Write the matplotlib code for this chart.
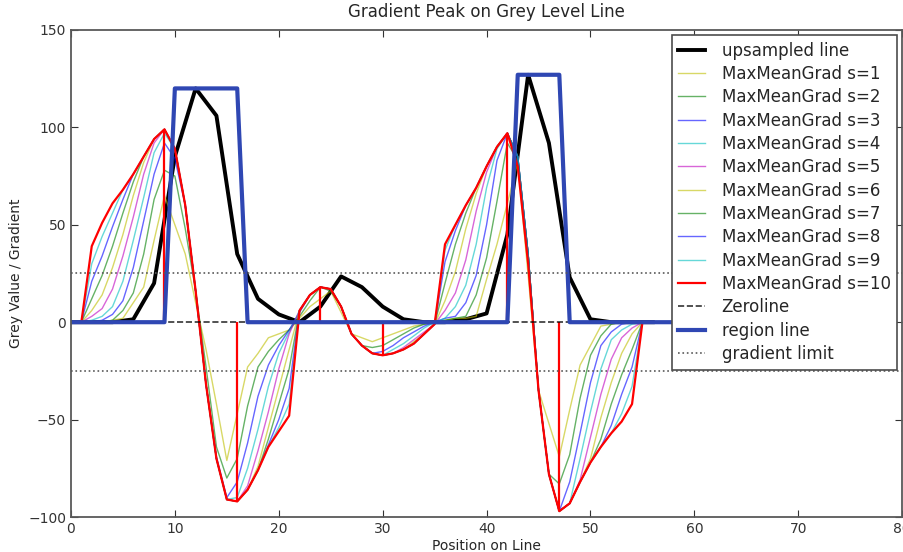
import matplotlib
matplotlib.use("Agg")
import matplotlib.pyplot as plt

# upsampled grey level line (every 2nd position)
line_x = [0, 2, 4, 6, 8, 10, 12, 14, 16, 18, 20, 22, 24, 26, 28, 30, 32, 34, 36, 38,
          40, 42, 44, 46, 48, 50, 52, 54, 56]
line_y = [0, 0, 0, 1.5, 20, 85, 120, 106, 35, 12, 4, 0, 8, 23.5, 18, 8, 1.5, 0, 0, 1.5,
          4.5, 45, 127, 92, 23, 1.5, 0, 0, 0]

# MaxMeanGrad for window sizes s=1..10, positions 1..55
grad_x = list(range(1, 56))
grad_s1 = [0, 0, 0, 1, 2, 10, 18, 42, 65, 50, 35, 10, -14, -42, -71, -47, -23, -16, -8, -6, -4, 2, 8, 12, 16, 5, -6, -8,
           -10, -8, -6, -4, -2, -1, 0, 1, 2, 2, 3, 22, 40, 61, 82, 24, -35, -52, -69, -45, -22, -12, -2, -1, 0, 0, 0]
grad_s2 = [0, 0, 0, 1, 6, 15, 35, 63, 78, 75, 48, 16, -23, -64, -80, -70, -43, -23, -15, -9, -4, 3, 11, 18, 16, 8, -6, -12,
           -13, -12, -9, -6, -3, -1, 0, 1, 2, 3, 14, 33, 62, 92, 83, 35, -35, -78, -83, -68, -39, -17, -7, -1, 0, 0, 0]
grad_s3 = [0, 0, 1, 4, 11, 28, 52, 76, 92, 84, 60, 16, -32, -69, -90, -82, -62, -38, -22, -12, -4, 5, 14, 18, 17, 8, -6, -12,
           -16, -15, -12, -8, -5, -2, 0, 2, 3, 10, 24, 50, 83, 97, 85, 35, -35, -78, -97, -82, -57, -31, -12, -5, -1, 0, 0]
grad_s4 = [0, 1, 3, 8, 21, 42, 64, 87, 97, 89, 60, 16, -32, -70, -91, -90, -75, -55, -33, -16, -5, 6, 14, 18, 17, 8, -6, -12,
           -16, -17, -14, -11, -7, -3, 0, 2, 8, 19, 40, 69, 89, 97, 85, 35, -35, -78, -97, -93, -70, -46, -24, -9, -4, -1, 0]
grad_s5 = [0, 3, 7, 17, 34, 54, 76, 92, 99, 89, 60, 16, -32, -70, -91, -92, -84, -66, -46, -24, -6, 6, 14, 18, 17, 8, -6, -12,
           -16, -17, -16, -13, -9, -5, -1, 6, 15, 32, 57, 77, 90, 97, 85, 35, -35, -78, -97, -93, -81, -59, -37, -19, -8, -3, 0]
grad_s6 = [0, 6, 14, 28, 45, 65, 82, 94, 99, 89, 60, 16, -32, -70, -91, -92, -86, -74, -54, -34, -14, 6, 14, 18, 17, 8, -6, -12,
           -16, -17, -16, -14, -10, -6, -1, 11, 26, 48, 66, 80, 90, 97, 85, 35, -35, -78, -97, -93, -82, -70, -49, -31, -16, -6, 0]
grad_s7 = [0, 12, 24, 39, 56, 72, 85, 94, 99, 89, 60, 16, -32, -70, -91, -92, -86, -76, -60, -42, -24, 6, 14, 18, 17, 8, -6, -12,
           -16, -17, -16, -14, -11, -6, -1, 20, 40, 56, 69, 80, 90, 97, 85, 35, -35, -78, -97, -93, -82, -72, -60, -42, -27, -14, 0]
grad_s8 = [0, 21, 34, 49, 63, 76, 85, 94, 99, 89, 60, 16, -32, -70, -91, -92, -86, -76, -63, -50, -34, 6, 14, 18, 17, 8, -6, -12,
           -16, -17, -16, -14, -11, -6, -1, 31, 47, 60, 69, 80, 90, 97, 85, 35, -35, -78, -97, -93, -82, -72, -64, -53, -37, -23, 0]
grad_s9 = [0, 30, 44, 56, 68, 76, 85, 94, 99, 89, 60, 16, -32, -70, -91, -92, -86, -76, -64, -54, -42, 6, 14, 18, 17, 8, -6, -12,
           -16, -17, -16, -14, -11, -6, -1, 37, 50, 60, 69, 80, 90, 97, 85, 35, -35, -78, -97, -93, -82, -72, -64, -57, -47, -33, 0]
grad_s10 = [0, 39, 51, 61, 68, 76, 85, 94, 99, 89, 60, 16, -32, -70, -91, -92, -86, -76, -64, -56, -48, 6, 14, 18, 17, 8, -6, -12,
            -16, -17, -16, -14, -11, -6, -1, 40, 50, 60, 69, 80, 90, 97, 80, 30, -35, -78, -97, -93, -82, -72, -64, -57, -51, -42, 0]
grads = [grad_s1, grad_s2, grad_s3, grad_s4, grad_s5, grad_s6, grad_s7, grad_s8, grad_s9, grad_s10]
grad_colors = ['y', 'g', 'b', 'c', 'm', 'y', 'g', 'b', 'c', 'r']

# gradient peaks found on the s=10 curve
peak_x = [9, 16, 24, 30, 42, 47]

# region line
region_x = [0, 9, 10, 16, 17, 42, 43, 47, 48, 60]
region_y = [0, 0, 120, 120, 0, 0, 127, 127, 0, 0]

grad_limit = 25

fig = plt.figure(figsize=(9.04, 5.52), dpi=100)
ax = fig.add_axes([0.0785, 0.0634, 0.9195, 0.8823])

ax.plot(line_x, line_y, color='k', lw=2.8, label='upsampled line')
for i, g in enumerate(grads):
    if i == 9:
        ax.plot(grad_x, g, color='r', lw=1.6, label='MaxMeanGrad s=%d' % (i + 1))
    else:
        ax.plot(grad_x, g, color=grad_colors[i], lw=1.0, alpha=0.6,
                label='MaxMeanGrad s=%d' % (i + 1))
ax.vlines(peak_x, 0, [grad_s10[p - 1] for p in peak_x], color='r', lw=1.6)
ax.plot([0, 60], [0, 0], 'k--', lw=1.2, alpha=0.8, label='Zeroline')
ax.plot(region_x, region_y, color='#2f47b3', lw=3, label='region line')
ax.plot([0, 80], [grad_limit, grad_limit], ':', color='0.35', lw=1.2, label='gradient limit')
ax.plot([0, 80], [-grad_limit, -grad_limit], ':', color='0.35', lw=1.2)

ax.set_xlim(0, 80)
ax.set_ylim(-100, 150)
ax.set_xticks(range(0, 81, 10))
ax.set_yticks(range(-100, 151, 50))
ax.tick_params(direction='in', top=True, right=True, length=5, labelsize=10, colors='0.2')
for sp in ax.spines.values():
    sp.set_color('0.35')
    sp.set_linewidth(1.3)
ax.set_title('Gradient Peak on Grey Level Line', fontsize=12, color='0.15', pad=9)
ax.set_xlabel('Position on Line', fontsize=10, color='0.15', labelpad=2)
ax.set_ylabel('Grey Value / Gradient', fontsize=10, color='0.15')

leg = ax.legend(loc='upper right', fontsize=12, labelspacing=0.32, handlelength=1.6,
                handletextpad=1.0, borderpad=0.4, borderaxespad=0.3,
                fancybox=False, framealpha=1)
leg.get_frame().set_edgecolor('0.3')
leg.get_frame().set_linewidth(1.2)
for t in leg.get_texts():
    t.set_color('0.15')

fig.savefig('out.png', dpi=100)
